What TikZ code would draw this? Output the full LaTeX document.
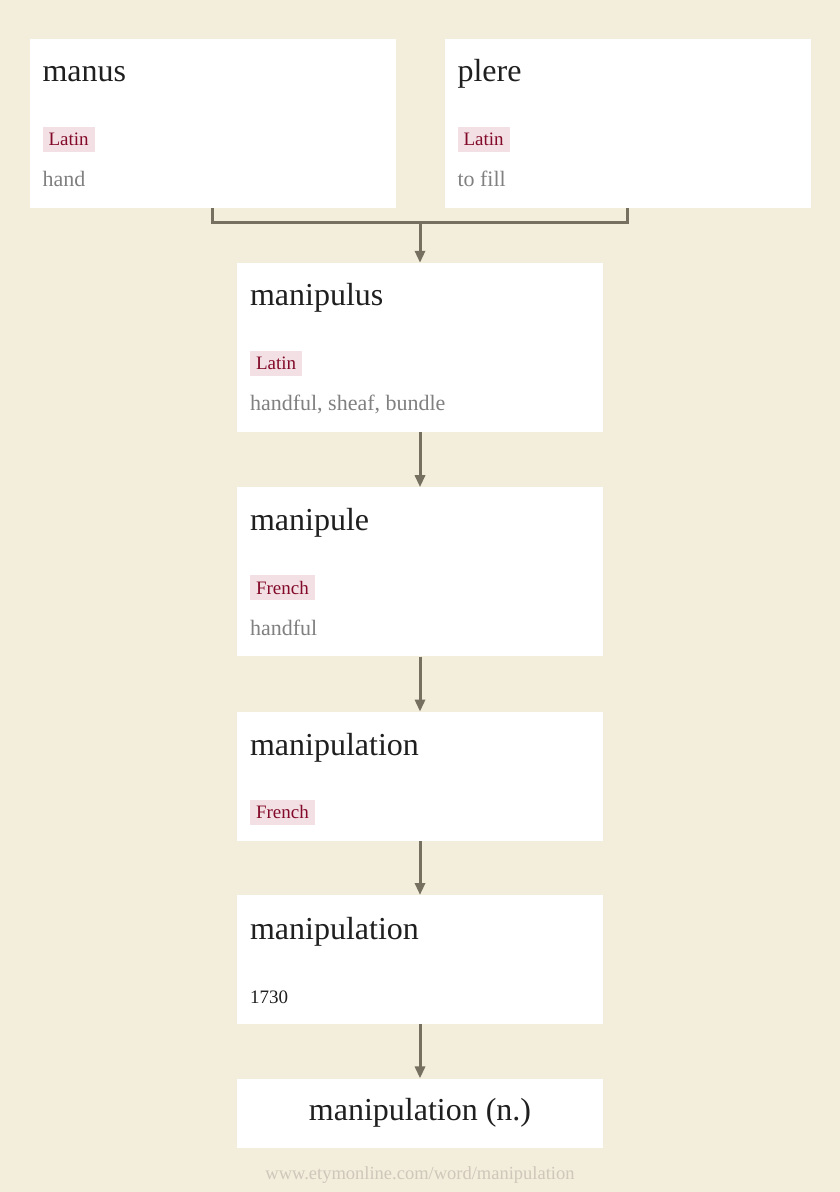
\documentclass[tikz,border=0pt]{standalone}
\usepackage{fontspec}
\setmainfont{Liberation Serif}
\usepackage{tikz}
\usetikzlibrary{arrows.meta,positioning,calc}
\usepackage{xcolor}
\definecolor{parchment}{RGB}{243,237,220}
\definecolor{tagpink}{RGB}{243,224,229}
\definecolor{tagred}{RGB}{130,10,40}
\definecolor{glossgray}{RGB}{128,128,128}
\definecolor{linkgray}{RGB}{118,112,96}
\definecolor{urlgray}{RGB}{206,199,186}
\tikzset{
  entry/.style={rectangle, fill=white, draw=none, minimum width=366pt, minimum height=169pt, inner sep=0pt},
  entryshort/.style={entry, minimum height=129pt},
  entryfinal/.style={entry, minimum height=69pt, font=\fontsize{32}{38}\selectfont, text=black!88},
  headword/.style={anchor=base west, inner sep=0pt, font=\fontsize{32}{38}\selectfont, text=black!88},
  langtag/.style={anchor=west, fill=tagpink, text=tagred, inner xsep=6pt, inner ysep=0pt,
                  minimum height=25pt, font=\fontsize{19}{22}\selectfont},
  gloss/.style={anchor=base west, inner sep=0pt, font=\fontsize{22}{26}\selectfont, text=glossgray},
  datenote/.style={anchor=base west, inner sep=0pt, font=\fontsize{19}{22}\selectfont, text=black!88},
  link/.style={line width=3pt, linkgray},
  arrow/.style={link, -{Triangle[length=12pt, width=10pt]}},
  footer/.style={font=\fontsize{18.5}{22}\selectfont, text=urlgray},
}
\begin{document}
\begin{tikzpicture}[x=1pt, y=-1pt, node distance=55pt]
\fill[parchment] (0,0) rectangle (840,1192);
\node[entry] (manus) at (212.5,123.5) {};
\node[entry] (plere) at (627.5,123.5) {};
\node[entry] (manipulus) at (420,347.5) {};
\node[entry, below=of manipulus] (manipule) {};
\node[entryshort, below=of manipule] (manipulationfr) {};
\node[entryshort, below=54pt of manipulationfr] (manipulationen) {};
\node[entryfinal, below=54pt of manipulationen] (manipulationn) {manipulation (n.)};
% words, languages and senses
\foreach \n/\w/\l/\g in {manus/manus/Latin/hand, plere/plere/Latin/to fill,
    manipulus/manipulus/Latin/{handful, sheaf, bundle}, manipule/manipule/French/handful}
{
  \node[headword] (\n-word) at ($(\n.north west)+(13,43)$) {\w};
  \node[langtag] (\n-lang) at ($(\n.north west)+(13,100.5)$) {\l};
  \node[gloss] (\n-gloss) at ($(\n.north west)+(13,148)$) {\g};
}
\node[headword] (manipulationfr-word) at ($(manipulationfr.north west)+(13,44)$) {manipulation};
\node[langtag] (manipulationfr-lang) at ($(manipulationfr.north west)+(13,100.5)$) {French};
\node[headword] (manipulationen-word) at ($(manipulationen.north west)+(13,44)$) {manipulation};
\node[datenote] (manipulationen-date) at ($(manipulationen.north west)+(13,108)$) {1730};
% connectors
\coordinate (fork) at ($(manus.south)!0.5!(plere.south)+(0,14)$);
\draw[link] (manus.south) |- (fork) -| (plere.south);
\draw[arrow] (fork) -- (manipulus.north);
\foreach \a/\b in {manipulus/manipule, manipule/manipulationfr,
    manipulationfr/manipulationen, manipulationen/manipulationn}
  \draw[arrow] (\a) -- (\b);
\node[footer] (url) at (420,1175) {www.etymonline.com/word/manipulation};
\end{tikzpicture}
\end{document}
